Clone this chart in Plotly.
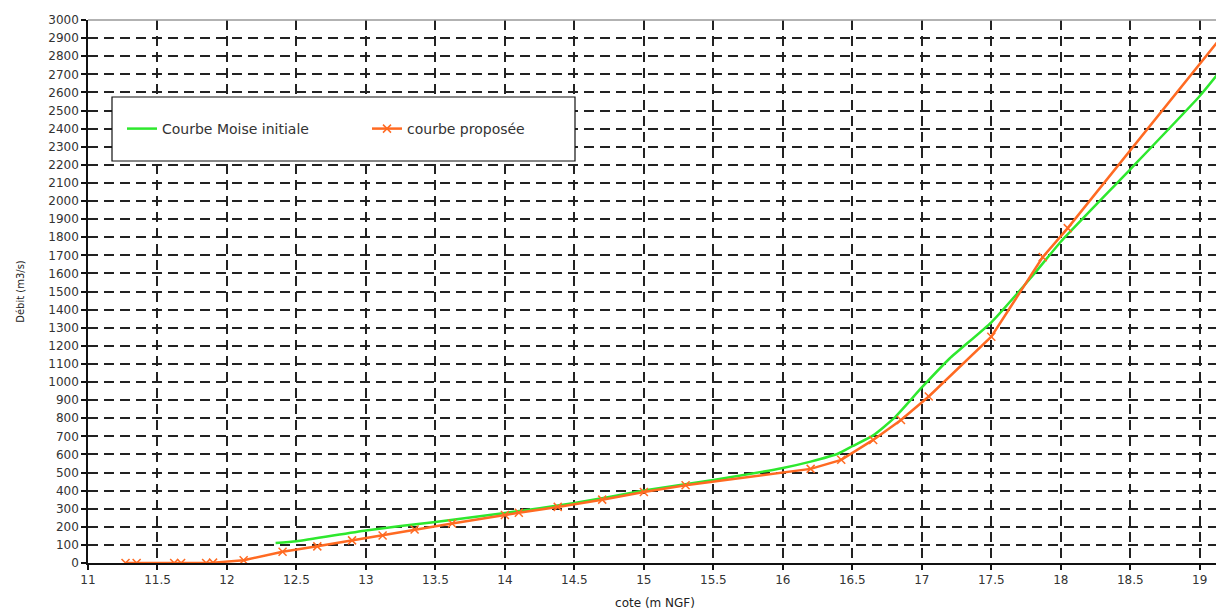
import plotly.graph_objects as go

# Courbe Moise initiale (green)
green_x = [12.35, 12.5, 13.0, 13.5, 14.0, 14.5, 15.0, 15.5, 16.0, 16.2, 16.4, 16.5,
           16.65, 16.8, 17.0, 17.2, 17.5, 17.8, 18.0, 18.5, 19.0, 19.16]
green_y = [110, 120, 180, 227, 276, 331, 400, 459, 525, 560, 605, 645,
           705, 800, 970, 1130, 1330, 1590, 1775, 2175, 2580, 2730]

# courbe proposée (orange)
orange_x = [11.27, 11.35, 11.62, 11.67, 11.85, 11.9, 12.12, 12.4, 12.65, 12.9, 13.12,
            13.35, 13.62, 14.0, 14.1, 14.38, 14.7, 15.0, 15.3, 16.2, 16.42, 16.65,
            16.85, 17.05, 17.5, 17.87, 18.05, 19.15]
orange_y = [0, 0, 0, 0, 0, 2, 15, 62, 92, 125, 152,
            185, 218, 265, 278, 310, 350, 392, 430, 520, 570, 680,
            790, 920, 1250, 1690, 1850, 2900]

x_ticks = [11, 11.5, 12, 12.5, 13, 13.5, 14, 14.5, 15, 15.5, 16, 16.5, 17, 17.5, 18, 18.5, 19]
y_ticks = list(range(0, 3001, 100))

GREEN = "#2ee82e"
ORANGE = "#ff6a22"
FONT = "DejaVu Sans"

fig = go.Figure()
fig.add_trace(go.Scatter(
    x=green_x, y=green_y, mode="lines", name="Courbe Moise initiale",
    line=dict(color=GREEN, width=2.5, shape="spline", smoothing=0.5),
))
fig.add_trace(go.Scatter(
    x=orange_x, y=orange_y, mode="lines+markers", name="courbe proposée",
    line=dict(color=ORANGE, width=2.5),
    marker=dict(symbol="x-thin", size=8, color=ORANGE, line=dict(color=ORANGE, width=1.5)),
))

# page offset of the plot div (body margin)
OFF = 8
W, H = 1224 - OFF, 614 - OFF
L, R, T, B = 88 - OFF, 2, 20 - OFF, 51
pw, ph = W - L - R, H - T - B

def px_x(p):
    return (p - OFF - L) / pw

def px_y(p):
    return (H - B - (p - OFF)) / ph

fig.add_shape(type="rect", xref="paper", yref="paper",
              x0=px_x(112), x1=px_x(575), y0=px_y(161), y1=px_y(97),
              line=dict(color="#111", width=1.2), fillcolor="white", layer="above")

fig.update_layout(
    width=W, height=H,
    margin=dict(l=L, r=R, t=T, b=B),
    paper_bgcolor="white", plot_bgcolor="white",
    font=dict(family=FONT, size=12, color="#333"),
    showlegend=True,
    legend=dict(orientation="h", x=px_x(122), xanchor="left", y=px_y(129), yanchor="middle",
                bgcolor="rgba(0,0,0,0)", borderwidth=0, entrywidth=200, entrywidthmode="pixels",
                font=dict(family=FONT, size=14, color="#333")),
    xaxis=dict(
        range=[11, 19.16], tickvals=x_ticks, ticktext=[f"{v:g}" for v in x_ticks],
        showgrid=True, gridcolor="#222", gridwidth=1.6, griddash="10px,6px",
        showline=True, linecolor="#111", linewidth=1.5,
        ticks="outside", ticklen=5, tickcolor="#111", tickwidth=1.5,
        zeroline=False, mirror=False,
        title=dict(text="cote (m NGF)", font=dict(family=FONT, size=12, color="#222"), standoff=12),
        tickfont=dict(family=FONT, size=12, color="#333"),
    ),
    yaxis=dict(
        range=[0, 3000], tickvals=y_ticks,
        showgrid=True, gridcolor="#222", gridwidth=1.6, griddash="10px,6px",
        showline=True, linecolor="#111", linewidth=1.5,
        ticks="outside", ticklen=5, tickcolor="#111", tickwidth=1.5,
        zeroline=False,
        title=dict(text="Débit (m3/s)", font=dict(family=FONT, size=10, color="#222"), standoff=22),
        tickfont=dict(family=FONT, size=12, color="#333"),
    ),
)

fig.add_shape(type="line", xref="paper", yref="paper", x0=0, x1=1, y0=1, y1=1,
              line=dict(color="#999", width=1.5))

fig.write_html("out.html")
